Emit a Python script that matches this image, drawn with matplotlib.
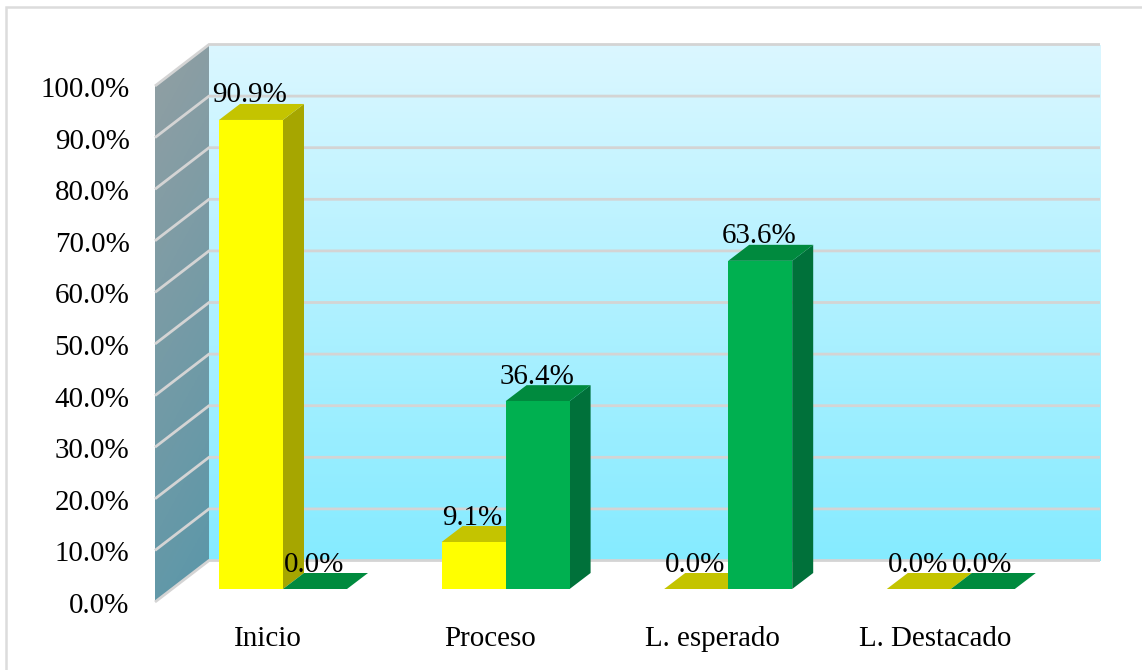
import numpy as np
import matplotlib
matplotlib.use("Agg")
import matplotlib.pyplot as plt
from matplotlib.patches import Polygon
from matplotlib.colors import LinearSegmentedColormap

categories = ["Inicio", "Proceso", "L. esperado", "L. Destacado"]
series_a = [90.9, 9.1, 0.0, 0.0]
series_b = [0.0, 36.4, 63.6, 0.0]
y_ticks = [0, 10, 20, 30, 40, 50, 60, 70, 80, 90, 100]

W, H = 1142, 670
PX_X = 222.6      # pixels per category
PX_Y = 5.16       # pixels per percent
ORG_X, ORG_Y = 283.0, 589.0
FS = 20.9

plt.rcParams["font.family"] = ["Liberation Serif", "DejaVu Serif"]
fig = plt.figure(figsize=(W / 100, H / 100), dpi=100, facecolor="white")
ax = fig.add_axes([0, 0, 1, 1])
ax.axis("off")

def X(p): return (p - ORG_X) / PX_X
def Y(p): return (ORG_Y - p) / PX_Y

bw = 64 / PX_X
dx = 21 / PX_X
dy = 16 / PX_Y
wall_dx = 54 / PX_X
wall_dy = 41.5 / PX_Y
wx0, wy0 = X(155), Y(602)         # front-bottom corner of the side wall
bx0, by0 = wx0 + wall_dx, wy0 + wall_dy
bx1 = X(1100)
span = 100.0

# back wall with gradient
back_cmap = LinearSegmentedColormap.from_list("b", ["#85EBFF", "#DBF7FF"])
im = ax.imshow(np.linspace(0, 1, 256).reshape(-1, 1), origin="lower", cmap=back_cmap,
               extent=[bx0, bx1, by0, by0 + span], aspect="auto", zorder=1)

# side wall with gradient
gx, gy = np.meshgrid(np.linspace(0, 1, 64), np.linspace(0, 1, 256))
side_cmap = LinearSegmentedColormap.from_list("s", ["#5A97A9", "#929FA3"])
im2 = ax.imshow(0.85 * gy + 0.15 * (1 - gx), origin="lower", cmap=side_cmap, vmin=0, vmax=1,
                extent=[wx0, bx0, wy0, by0 + span], aspect="auto", zorder=1)
im2.set_clip_path(Polygon([(wx0, wy0), (bx0, by0), (bx0, by0 + span), (wx0, wy0 + span)],
                          transform=ax.transData))
ax.set_xlim(-ORG_X / PX_X, (W - ORG_X) / PX_X)
ax.set_ylim((ORG_Y - H) / PX_Y, ORG_Y / PX_Y)

# gridlines
grid_c = "#D4D4D4"
for t in y_ticks:
    ax.plot([wx0, bx0, bx1], [wy0 + t, by0 + t, by0 + t], color=grid_c, lw=2.0,
            zorder=2, solid_capstyle="butt", solid_joinstyle="miter")
    ax.text(X(129.5), wy0 + t - 1 / PX_Y, f"{t:.1f}%", ha="right", va="center_baseline",
            fontsize=FS, color="black", zorder=6)

def bar3d(x0, v, front, top, side):
    z = 3
    ax.add_patch(Polygon([(x0 + bw, 0), (x0 + bw + dx, dy), (x0 + bw + dx, v + dy), (x0 + bw, v)],
                         closed=True, fc=side, ec="none", zorder=z))
    ax.add_patch(Polygon([(x0, v), (x0 + bw, v), (x0 + bw + dx, v + dy), (x0 + dx, v + dy)],
                         closed=True, fc=top, ec="none", zorder=z))
    if v > 0:
        ax.add_patch(Polygon([(x0, 0), (x0 + bw, 0), (x0 + bw, v), (x0, v)],
                             closed=True, fc=front, ec="none", zorder=z))

for i in range(len(categories)):
    bar3d(i - bw, series_a[i], "#FFFF00", "#C4C400", "#A6A600")
    bar3d(i, series_b[i], "#00B050", "#008A3E", "#00713A")

for i, cat in enumerate(categories):
    for x0, v in ((i - bw, series_a[i]), (i, series_b[i])):
        ax.text(x0 + bw / 2 - 1 / PX_X, v + dy + 1.5 / PX_Y, f"{v:.1f}%", ha="center",
                va="baseline", fontsize=FS, color="black", zorder=7)
    ax.text(i - 15.5 / PX_X, Y(646.5), cat, ha="center", va="baseline", fontsize=FS,
            color="black", zorder=6)

# outer frame
fig.add_artist(plt.Rectangle((6 / W, -0.05), W, 1.05 - 7 / H, transform=fig.transFigure,
                             fill=False, ec="#DCDCDC", lw=1.8))
fig.savefig("out.png", dpi=100)
